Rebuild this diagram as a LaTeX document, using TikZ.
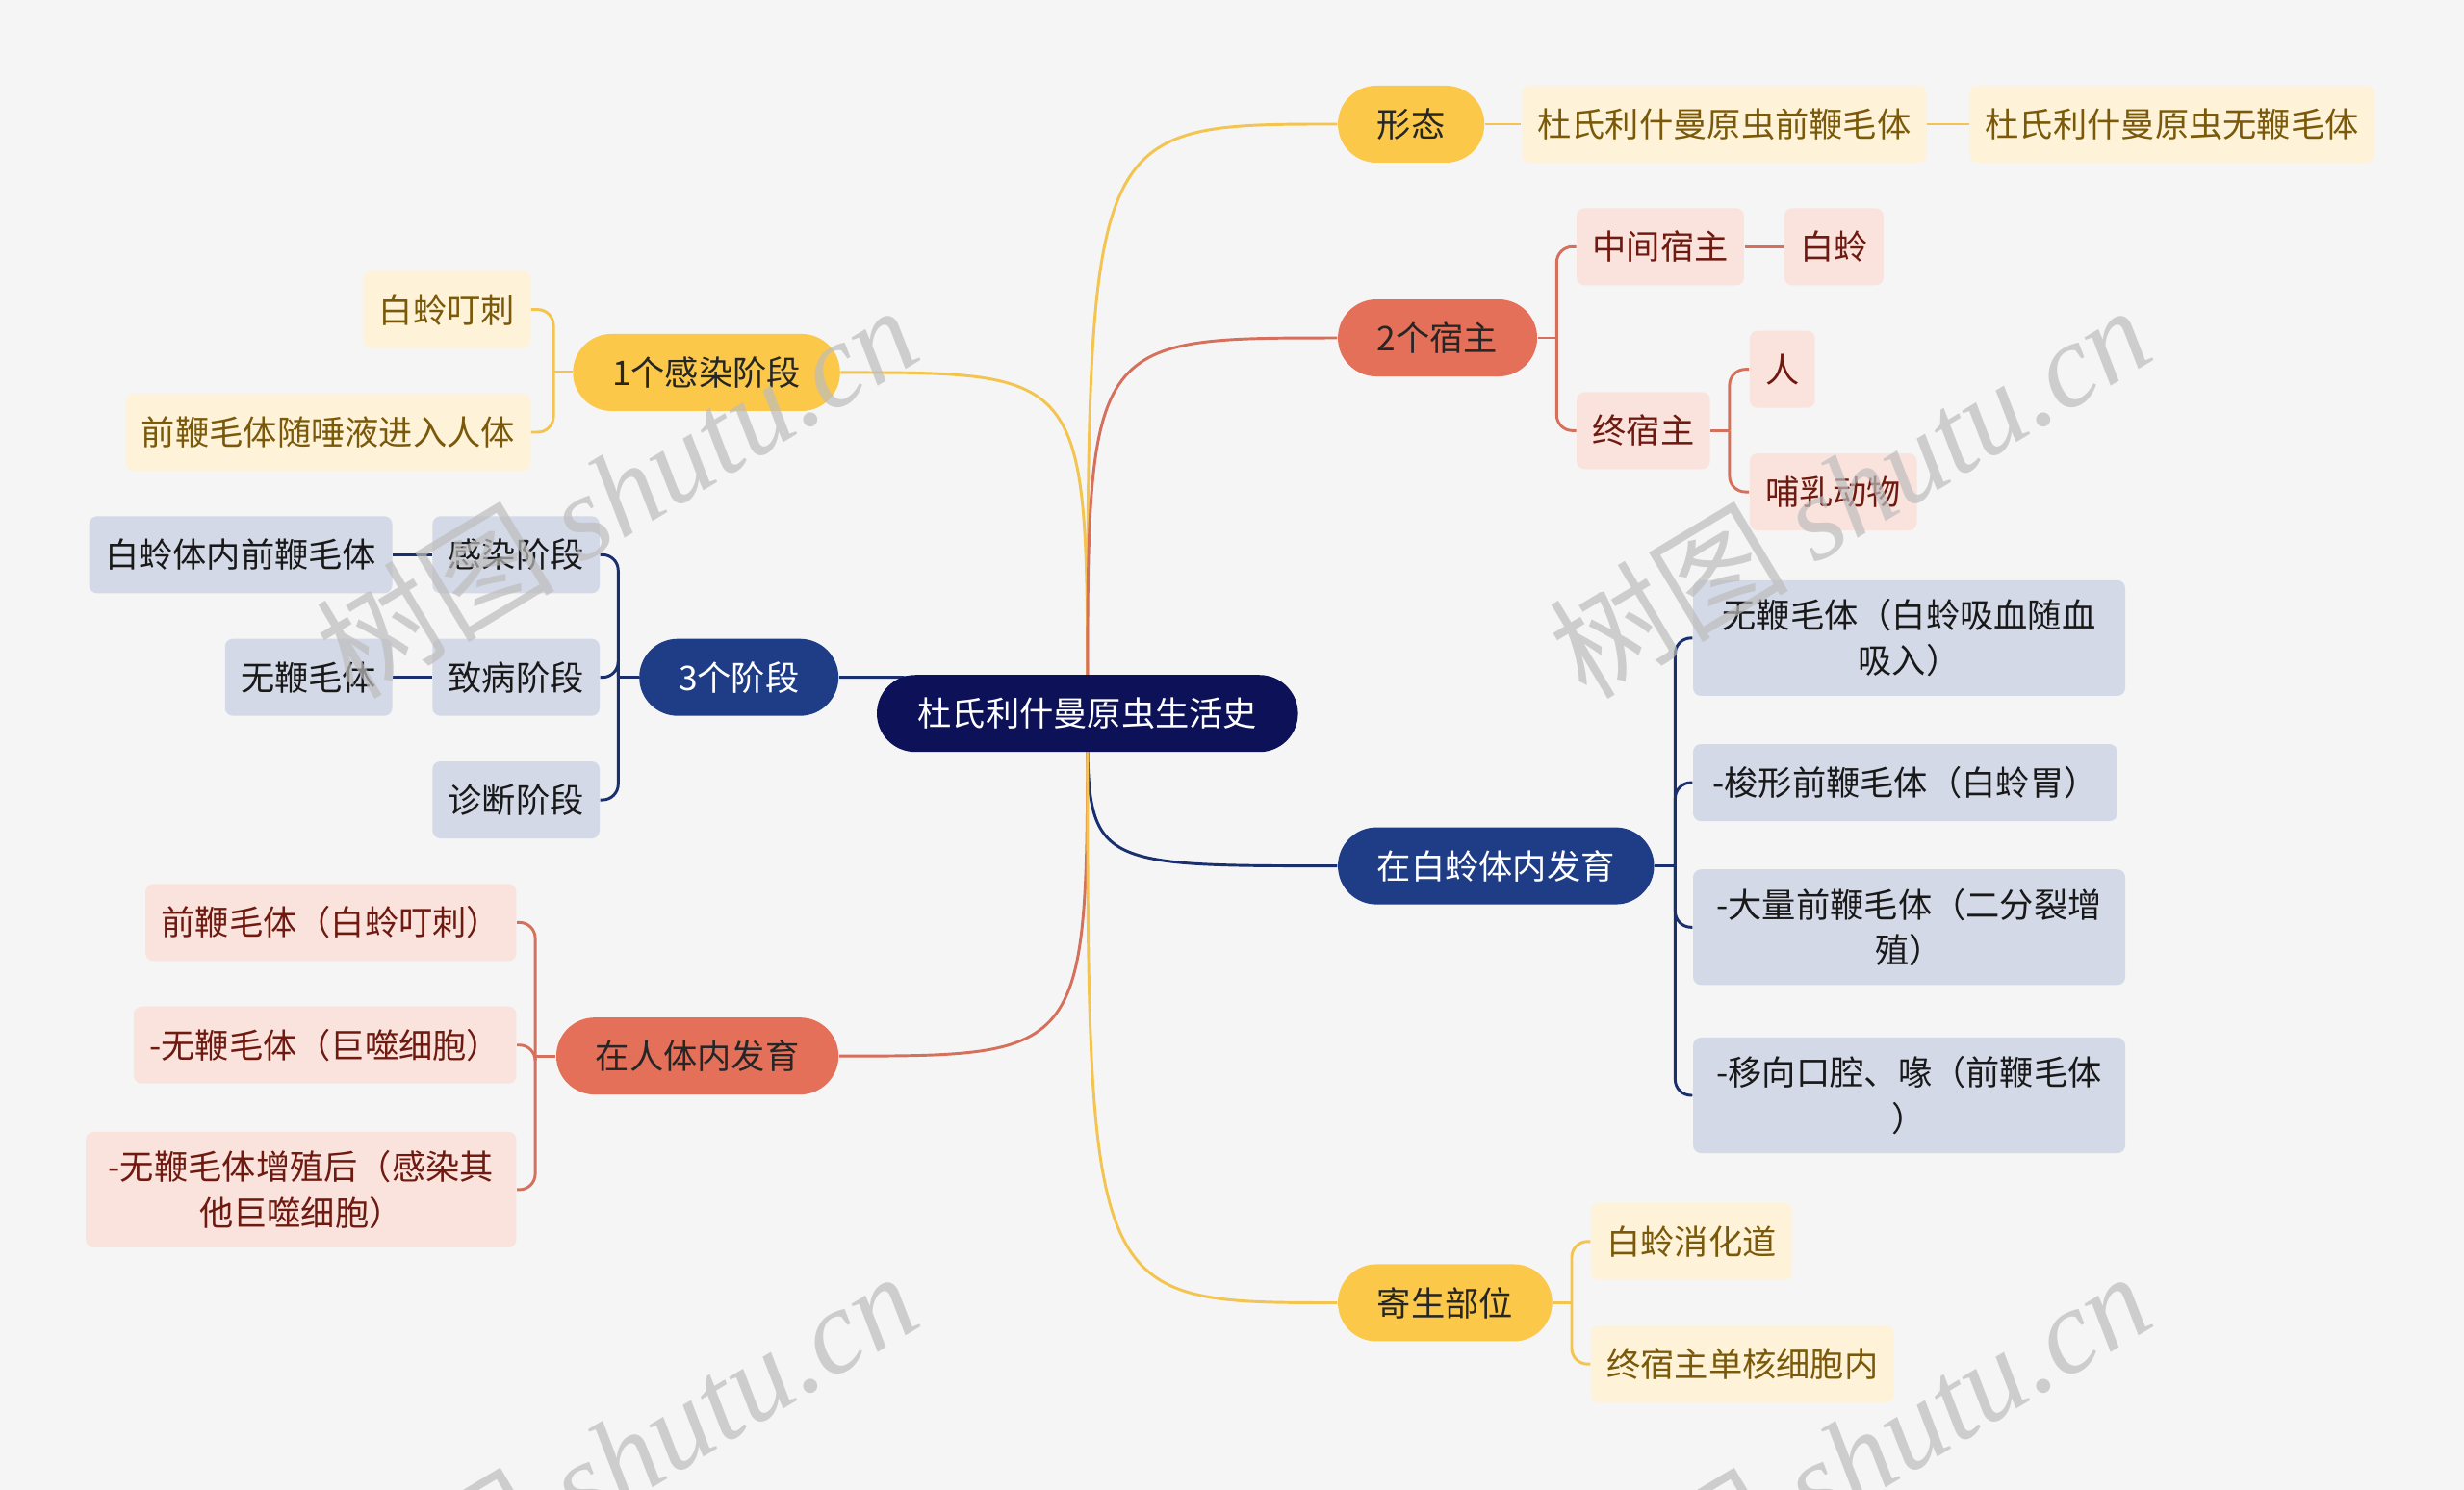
\documentclass[tikz,border=0pt]{standalone}
\usepackage{fontspec}
\setmainfont{Noto Sans CJK SC}
\newfontfamily\wmlatin{Liberation Serif}
\usetikzlibrary{backgrounds}

\definecolor{bgcol}{HTML}{F5F5F5}
\definecolor{rootcol}{HTML}{0C1158}
\definecolor{ymain}{HTML}{FBC84A}
\definecolor{yleaf}{HTML}{FEF3D8}
\definecolor{ytext}{HTML}{7A5A0A}
\definecolor{yedge}{HTML}{F3C44F}
\definecolor{rmain}{HTML}{E4705A}
\definecolor{rleaf}{HTML}{FAE3DD}
\definecolor{rtext}{HTML}{6E1A10}
\definecolor{redge}{HTML}{D4705B}
\definecolor{bmain}{HTML}{1F3D86}
\definecolor{bleaf}{HTML}{D4D9E8}
\definecolor{bedge}{HTML}{1A2F6E}
\definecolor{wmcol}{HTML}{BDBDBD}

\tikzset{
  topic/.style={rounded corners=12.25pt, minimum height=24.5pt, inner xsep=12.5pt,
    inner ysep=0pt, font=\fontsize{10.8}{13}\selectfont},
  leaf/.style={rounded corners=2.5pt, minimum height=24.5pt, inner xsep=5pt,
    inner ysep=6pt, align=center, font=\fontsize{10.8}{14.5}\selectfont},
  ytopic/.style={topic, fill=ymain, text=black!85},
  rtopic/.style={topic, fill=rmain, text=black!85},
  btopic/.style={topic, fill=bmain, text=white},
  yleafbox/.style={leaf, fill=yleaf, text=ytext},
  rleafbox/.style={leaf, fill=rleaf, text=rtext},
  bleafbox/.style={leaf, fill=bleaf, text=black!90},
  ylink/.style={draw=yedge, line width=0.9pt},
  rlink/.style={draw=redge, line width=0.9pt},
  blink/.style={draw=bedge, line width=0.9pt},
  wm/.style={text=wmcol, opacity=0.7, rotate=31, font=\fontsize{38}{38}\selectfont}
}

\begin{document}
\begin{tikzpicture}[x=0.5pt, y=-0.5pt]
\useasboundingbox (0,0) rectangle (1568,948);

% root
\node[topic, fill=rootcol, text=white, inner xsep=13pt] (root) at (692,454) {杜氏利什曼原虫生活史};

% left side
\node[ytopic, anchor=east] (n1) at (535,237) {1个感染阶段};
\node[yleafbox, anchor=east] (n1a) at (338,197) {白蛉叮刺};
\node[yleafbox, anchor=east] (n1b) at (338,275) {前鞭毛体随唾液进入人体};

\node[btopic, anchor=east] (n2) at (534,431) {3个阶段};
\node[bleafbox, anchor=east] (n2a) at (382,353) {感染阶段};
\node[bleafbox, anchor=east] (n2a1) at (250,353) {白蛉体内前鞭毛体};
\node[bleafbox, anchor=east] (n2b) at (382,431) {致病阶段};
\node[bleafbox, anchor=east] (n2b1) at (250,431) {无鞭毛体};
\node[bleafbox, anchor=east] (n2c) at (382,509) {诊断阶段};

\node[rtopic, anchor=east] (n3) at (534,672) {在人体内发育};
\node[rleafbox, anchor=east] (n3a) at (329,587) {前鞭毛体（白蛉叮刺）};
\node[rleafbox, anchor=east] (n3b) at (329,665) {-无鞭毛体（巨噬细胞）};
\node[rleafbox, anchor=east, minimum width=137pt] (n3c) at (329,757) {-无鞭毛体增殖后（感染其\\他巨噬细胞）};

% right side
\node[ytopic, anchor=west] (m1) at (851,79) {形态};
\node[yleafbox, anchor=west] (m1a) at (968,79) {杜氏利什曼原虫前鞭毛体};
\node[yleafbox, anchor=west] (m1b) at (1253,79) {杜氏利什曼原虫无鞭毛体};

\node[rtopic, anchor=west] (m2) at (851,215) {2个宿主};
\node[rleafbox, anchor=west] (m2a) at (1003,157) {中间宿主};
\node[rleafbox, anchor=west] (m2a1) at (1135,157) {白蛉};
\node[rleafbox, anchor=west] (m2b) at (1003,274) {终宿主};
\node[rleafbox, anchor=west] (m2b1) at (1113,235) {人};
\node[rleafbox, anchor=west] (m2b2) at (1113,313) {哺乳动物};

\node[btopic, anchor=west] (m3) at (851,551) {在白蛉体内发育};
\node[bleafbox, anchor=west, minimum width=137.5pt] (m3a) at (1077,406) {无鞭毛体（白蛉吸血随血\\吸入）};
\node[bleafbox, anchor=west, minimum width=135pt] (m3b) at (1077,498) {-梭形前鞭毛体（白蛉胃）};
\node[bleafbox, anchor=west, minimum width=137.5pt] (m3c) at (1077,590) {-大量前鞭毛体（二分裂增\\殖）};
\node[bleafbox, anchor=west, minimum width=137.5pt] (m3d) at (1077,697) {-移向口腔、喙（前鞭毛体\\）};

\node[ytopic, anchor=west] (m4) at (851,829) {寄生部位};
\node[yleafbox, anchor=west] (m4a) at (1012,790) {白蛉消化道};
\node[yleafbox, anchor=west] (m4b) at (1012,868) {终宿主单核细胞内};

\begin{scope}[on background layer]
\fill[bgcol] (0,0) rectangle (1568,948);
% main branches
\draw[ylink] (n1.east) .. controls (root.center |- n1.east) .. (root.center);
\draw[blink] (n2.east) .. controls (root.center |- n2.east) .. (root.center);
\draw[rlink] (n3.east) .. controls (root.center |- n3.east) .. (root.center);
\draw[ylink] (root.center) .. controls (root.center |- m1.west) .. (m1.west);
\draw[rlink] (root.center) .. controls (root.center |- m2.west) .. (m2.west);
\draw[blink] (root.center) .. controls (root.center |- m3.west) .. (m3.west);
\draw[ylink] (root.center) .. controls (root.center |- m4.west) .. (m4.west);
\end{scope}

% sub branches
\draw[ylink] (n1.west) -- ++(-12,0) coordinate (n1j);
\draw[ylink, rounded corners=5pt] (n1j) |- (n1a.east);
\draw[ylink, rounded corners=5pt] (n1j) |- (n1b.east);

\draw[blink] (n2.west) -- ++(-13,0) coordinate (n2j);
\draw[blink, rounded corners=5pt] (n2j) |- (n2a.east);
\draw[blink, rounded corners=5pt] (n2j) |- (n2b.east);
\draw[blink, rounded corners=5pt] (n2j) |- (n2c.east);
\draw[blink] (n2a.west) -- (n2a1.east);
\draw[blink] (n2b.west) -- (n2b1.east);

\draw[rlink] (n3.west) -- ++(-13,0) coordinate (n3j);
\draw[rlink, rounded corners=5pt] (n3j) |- (n3a.east);
\draw[rlink, rounded corners=5pt] (n3j) |- (n3b.east);
\draw[rlink, rounded corners=5pt] (n3j) |- (n3c.east);

\draw[ylink] (m1.east) -- (m1a.west);
\draw[ylink] (m1a.east) -- (m1b.west);

\draw[rlink] (m2.east) -- ++(12,0) coordinate (m2j);
\draw[rlink, rounded corners=5pt] (m2j) |- (m2a.west);
\draw[rlink, rounded corners=5pt] (m2j) |- (m2b.west);
\draw[rlink] (m2a.east) -- (m2a1.west);
\draw[rlink] (m2b.east) -- ++(12,0) coordinate (m2bj);
\draw[rlink, rounded corners=5pt] (m2bj) |- (m2b1.west);
\draw[rlink, rounded corners=5pt] (m2bj) |- (m2b2.west);

\draw[blink] (m3.east) -- ++(13,0) coordinate (m3j);
\draw[blink, rounded corners=5pt] (m3j) |- (m3a.west);
\draw[blink, rounded corners=5pt] (m3j) |- (m3b.west);
\draw[blink, rounded corners=5pt] (m3j) |- (m3c.west);
\draw[blink, rounded corners=5pt] (m3j) |- (m3d.west);

\draw[ylink] (m4.east) -- ++(12,0) coordinate (m4j);
\draw[ylink, rounded corners=5pt] (m4j) |- (m4a.west);
\draw[ylink, rounded corners=5pt] (m4j) |- (m4b.west);

% watermarks
\node[wm] (wm1) at (392,312) {树图 {\wmlatin\itshape shutu.cn}};
\node[wm] (wm2) at (1177,312) {树图 {\wmlatin\itshape shutu.cn}};
\node[wm] (wm3) at (392,927) {树图 {\wmlatin\itshape shutu.cn}};
\node[wm] (wm4) at (1177,927) {树图 {\wmlatin\itshape shutu.cn}};
\end{tikzpicture}
\end{document}
